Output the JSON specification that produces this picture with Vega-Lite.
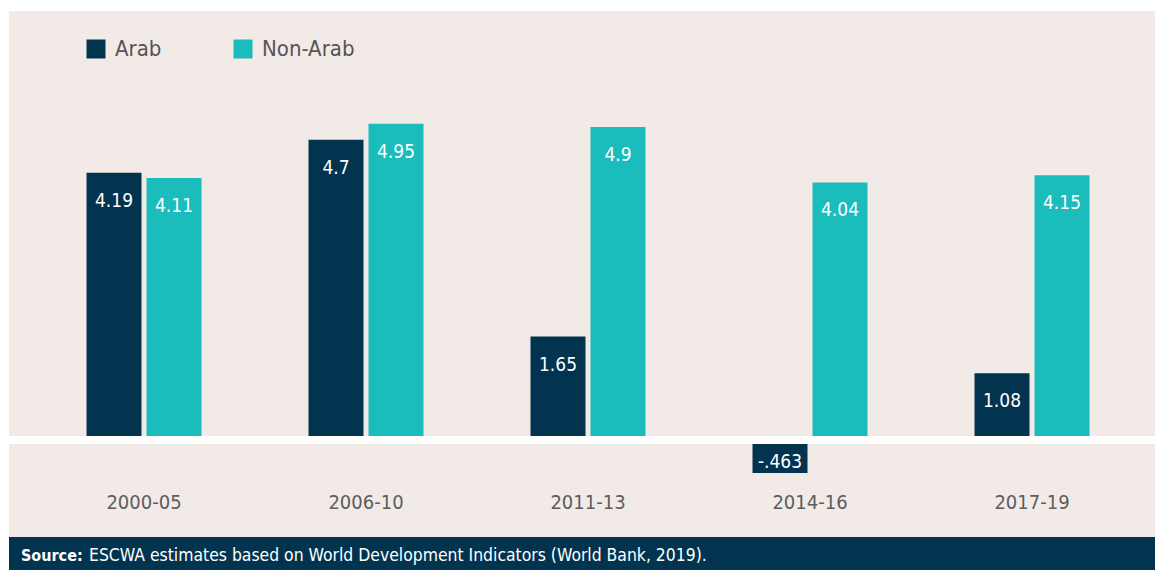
{
  "$schema": "https://vega.github.io/schema/vega-lite/v6.json",
  "background": "#ffffff",
  "padding": {"left": 5, "top": 11, "right": 0, "bottom": 0},
  "spacing": 0,
  "config": {"view": {"stroke": null}, "font": "DejaVu Sans Condensed, Roboto, sans-serif"},
  "vconcat": [
    {
      "width": 1146,
      "height": 526,
      "view": {"fill": "#f2eae7", "stroke": null},
      "data": {
        "values": [
          {"period": "2000-05", "group": "Arab", "value": 4.19, "label": "4.19"},
          {"period": "2000-05", "group": "Non-Arab", "value": 4.11, "label": "4.11"},
          {"period": "2006-10", "group": "Arab", "value": 4.7, "label": "4.7"},
          {"period": "2006-10", "group": "Non-Arab", "value": 4.95, "label": "4.95"},
          {"period": "2011-13", "group": "Arab", "value": 1.65, "label": "1.65"},
          {"period": "2011-13", "group": "Non-Arab", "value": 4.9, "label": "4.9"},
          {"period": "2014-16", "group": "Arab", "value": -0.463, "label": "-.463"},
          {"period": "2014-16", "group": "Non-Arab", "value": 4.04, "label": "4.04"},
          {"period": "2017-19", "group": "Arab", "value": 1.08, "label": "1.08"},
          {"period": "2017-19", "group": "Non-Arab", "value": 4.15, "label": "4.15"}
        ]
      },
      "layer": [
        {
          "mark": {"type": "bar"},
          "encoding": {
            "x": {
              "field": "period", "type": "nominal", "sort": null,
              "scale": {"range": [24, 1134], "paddingInner": 0, "paddingOuter": 0},
              "axis": {
                "orient": "bottom", "offset": -35, "domain": false, "ticks": false,
                "labelPadding": 0, "labelBaseline": "middle", "labelAngle": 0,
                "labelFont": "DejaVu Sans Condensed, Roboto, sans-serif", "labelFontSize": 20,
                "labelColor": "#5d5d5d", "title": null, "grid": false
              }
            },
            "xOffset": {
              "field": "group", "type": "nominal", "sort": ["Arab", "Non-Arab"],
              "scale": {"paddingInner": 0.0833, "paddingOuter": 0.8917}
            },
            "y": {
              "field": "value", "type": "quantitative",
              "scale": {"domain": [-1.457, 6.698], "nice": false, "zero": false},
              "axis": null
            },
            "color": {
              "field": "group", "type": "nominal",
              "scale": {"domain": ["Arab", "Non-Arab"], "range": ["#02344f", "#1bbcbc"]},
              "legend": {
                "orient": "none", "legendX": 76, "legendY": 27, "direction": "horizontal",
                "title": null, "symbolType": "square", "symbolSize": 361,
                "symbolStrokeWidth": 0, "symbolOpacity": 1,
                "labelFont": "DejaVu Sans Condensed, Roboto, sans-serif", "labelFontSize": 22,
                "labelColor": "#555555", "labelOffset": 8, "columnPadding": 70, "padding": 0
              }
            }
          }
        },
        {
          "transform": [{"filter": "datum.value >= 0"}],
          "mark": {"type": "text", "color": "#ffffff", "fontSize": 19, "baseline": "alphabetic", "dy": 34},
          "encoding": {
            "x": {"field": "period", "type": "nominal", "sort": null},
            "xOffset": {"field": "group", "type": "nominal", "sort": ["Arab", "Non-Arab"]},
            "y": {"field": "value", "type": "quantitative"},
            "text": {"field": "label"}
          }
        },
        {
          "transform": [{"filter": "datum.value < 0"}],
          "mark": {"type": "text", "color": "#ffffff", "fontSize": 19, "baseline": "alphabetic", "dy": -5},
          "encoding": {
            "x": {"field": "period", "type": "nominal", "sort": null},
            "xOffset": {"field": "group", "type": "nominal", "sort": ["Arab", "Non-Arab"]},
            "y": {"field": "value", "type": "quantitative"},
            "text": {"field": "label"}
          }
        },
        {
          "data": {"values": [{"zero": 0}]},
          "mark": {"type": "rule", "color": "#ffffff", "strokeWidth": 8},
          "encoding": {"y": {"datum": 0.0465}}
        }
      ]
    },
    {
      "width": 1146,
      "height": 33,
      "view": {"fill": "#02344f", "stroke": null},
      "layer": [
        {
          "data": {"values": [{"t": "Source:"}]},
          "mark": {"type": "text", "color": "#ffffff", "fontSize": 16, "fontWeight": "bold", "align": "left", "baseline": "alphabetic"},
          "encoding": {"x": {"value": 12}, "y": {"value": 24}, "text": {"field": "t"}}
        },
        {
          "data": {"values": [{"t": "ESCWA estimates based on World Development Indicators (World Bank, 2019)."}]},
          "mark": {"type": "text", "color": "#ffffff", "fontSize": 17.4, "align": "left", "baseline": "alphabetic"},
          "encoding": {"x": {"value": 80}, "y": {"value": 24}, "text": {"field": "t"}}
        }
      ]
    }
  ]
}
